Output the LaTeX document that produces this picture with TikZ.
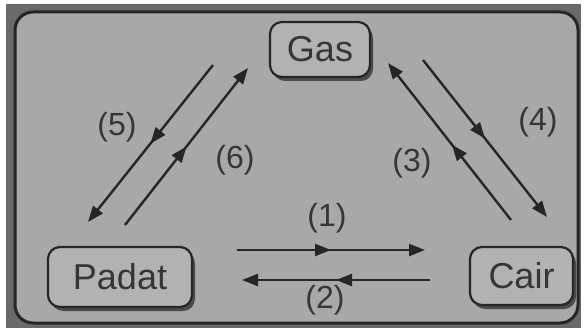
\documentclass[tikz,border=0pt]{standalone}
\usepackage{fontspec}
\setmainfont{Liberation Sans}
\usetikzlibrary{arrows.meta,decorations.markings,shadows}
\definecolor{bgout}{HTML}{6A6A6A}
\definecolor{bgin}{HTML}{A8A8A8}
\definecolor{boxfill}{HTML}{B2B2B2}
\definecolor{ink}{HTML}{262626}
\definecolor{txt}{HTML}{363636}
\begin{document}
\begin{tikzpicture}[x=1pt,y=-1pt,
  statebox/.style={draw=ink, line width=2.2pt, fill=boxfill, rounded corners=12pt,
    minimum width=#1, inner sep=0pt, text=txt,
    font=\fontsize{36}{42}\selectfont,
    drop shadow={shadow xshift=3pt, shadow yshift=-4pt, fill=black, opacity=0.55}},
  lbl/.style={text=txt, font=\fontsize{32}{38}\selectfont, inner sep=0pt},
  flow/.style={draw=ink, line width=2.4pt, -{Triangle[length=16pt,width=12pt]},
    postaction={decorate},
    decoration={markings, mark=at position #1 with {\arrow{Triangle[length=16pt,width=12pt]}}}},
  flow/.default=0.5
]
\useasboundingbox (0,0) rectangle (584,329);
\fill[white] (0,0) rectangle (584,329);
\fill[bgout] (6,4) rectangle (581,328);
\draw[ink, line width=3pt, fill=bgin, rounded corners=18pt] (15,12) rectangle (578,323);

\node[statebox=100pt, minimum height=55pt] (gas) at (320,49.5) {Gas};
\node[statebox=144pt, minimum height=60pt] (padat) at (120,277) {Padat};
\node[statebox=103pt, minimum height=58pt] (cair) at (521.5,276) {Cair};

\coordinate (s5) at (213,65);  \coordinate (e5) at (88,222);
\coordinate (s6) at (125,225); \coordinate (e6) at (248,68);
\coordinate (s3) at (511,220); \coordinate (e3) at (388,63);
\coordinate (s4) at (423,60);  \coordinate (e4) at (547,217);
\coordinate (s1) at (237,250); \coordinate (e1) at (425,250);
\coordinate (s2) at (430,280); \coordinate (e2) at (242,280);

\draw[flow=0.5] (s5) -- (e5);
\draw[flow=0.5] (s6) -- (e6);
\draw[flow=0.48] (s3) -- (e3);
\draw[flow=0.5] (s4) -- (e4);
\draw[flow=0.5] (s1) -- (e1);
\draw[flow=0.5] (s2) -- (e2);

\node[lbl] (l1) at (327,218) {(1)};
\node[lbl] (l2) at (325,300) {(2)};
\node[lbl] (l3) at (412,163) {(3)};
\node[lbl] (l4) at (538,122) {(4)};
\node[lbl] (l5) at (117,127) {(5)};
\node[lbl] (l6) at (235,160) {(6)};
\end{tikzpicture}
\end{document}
